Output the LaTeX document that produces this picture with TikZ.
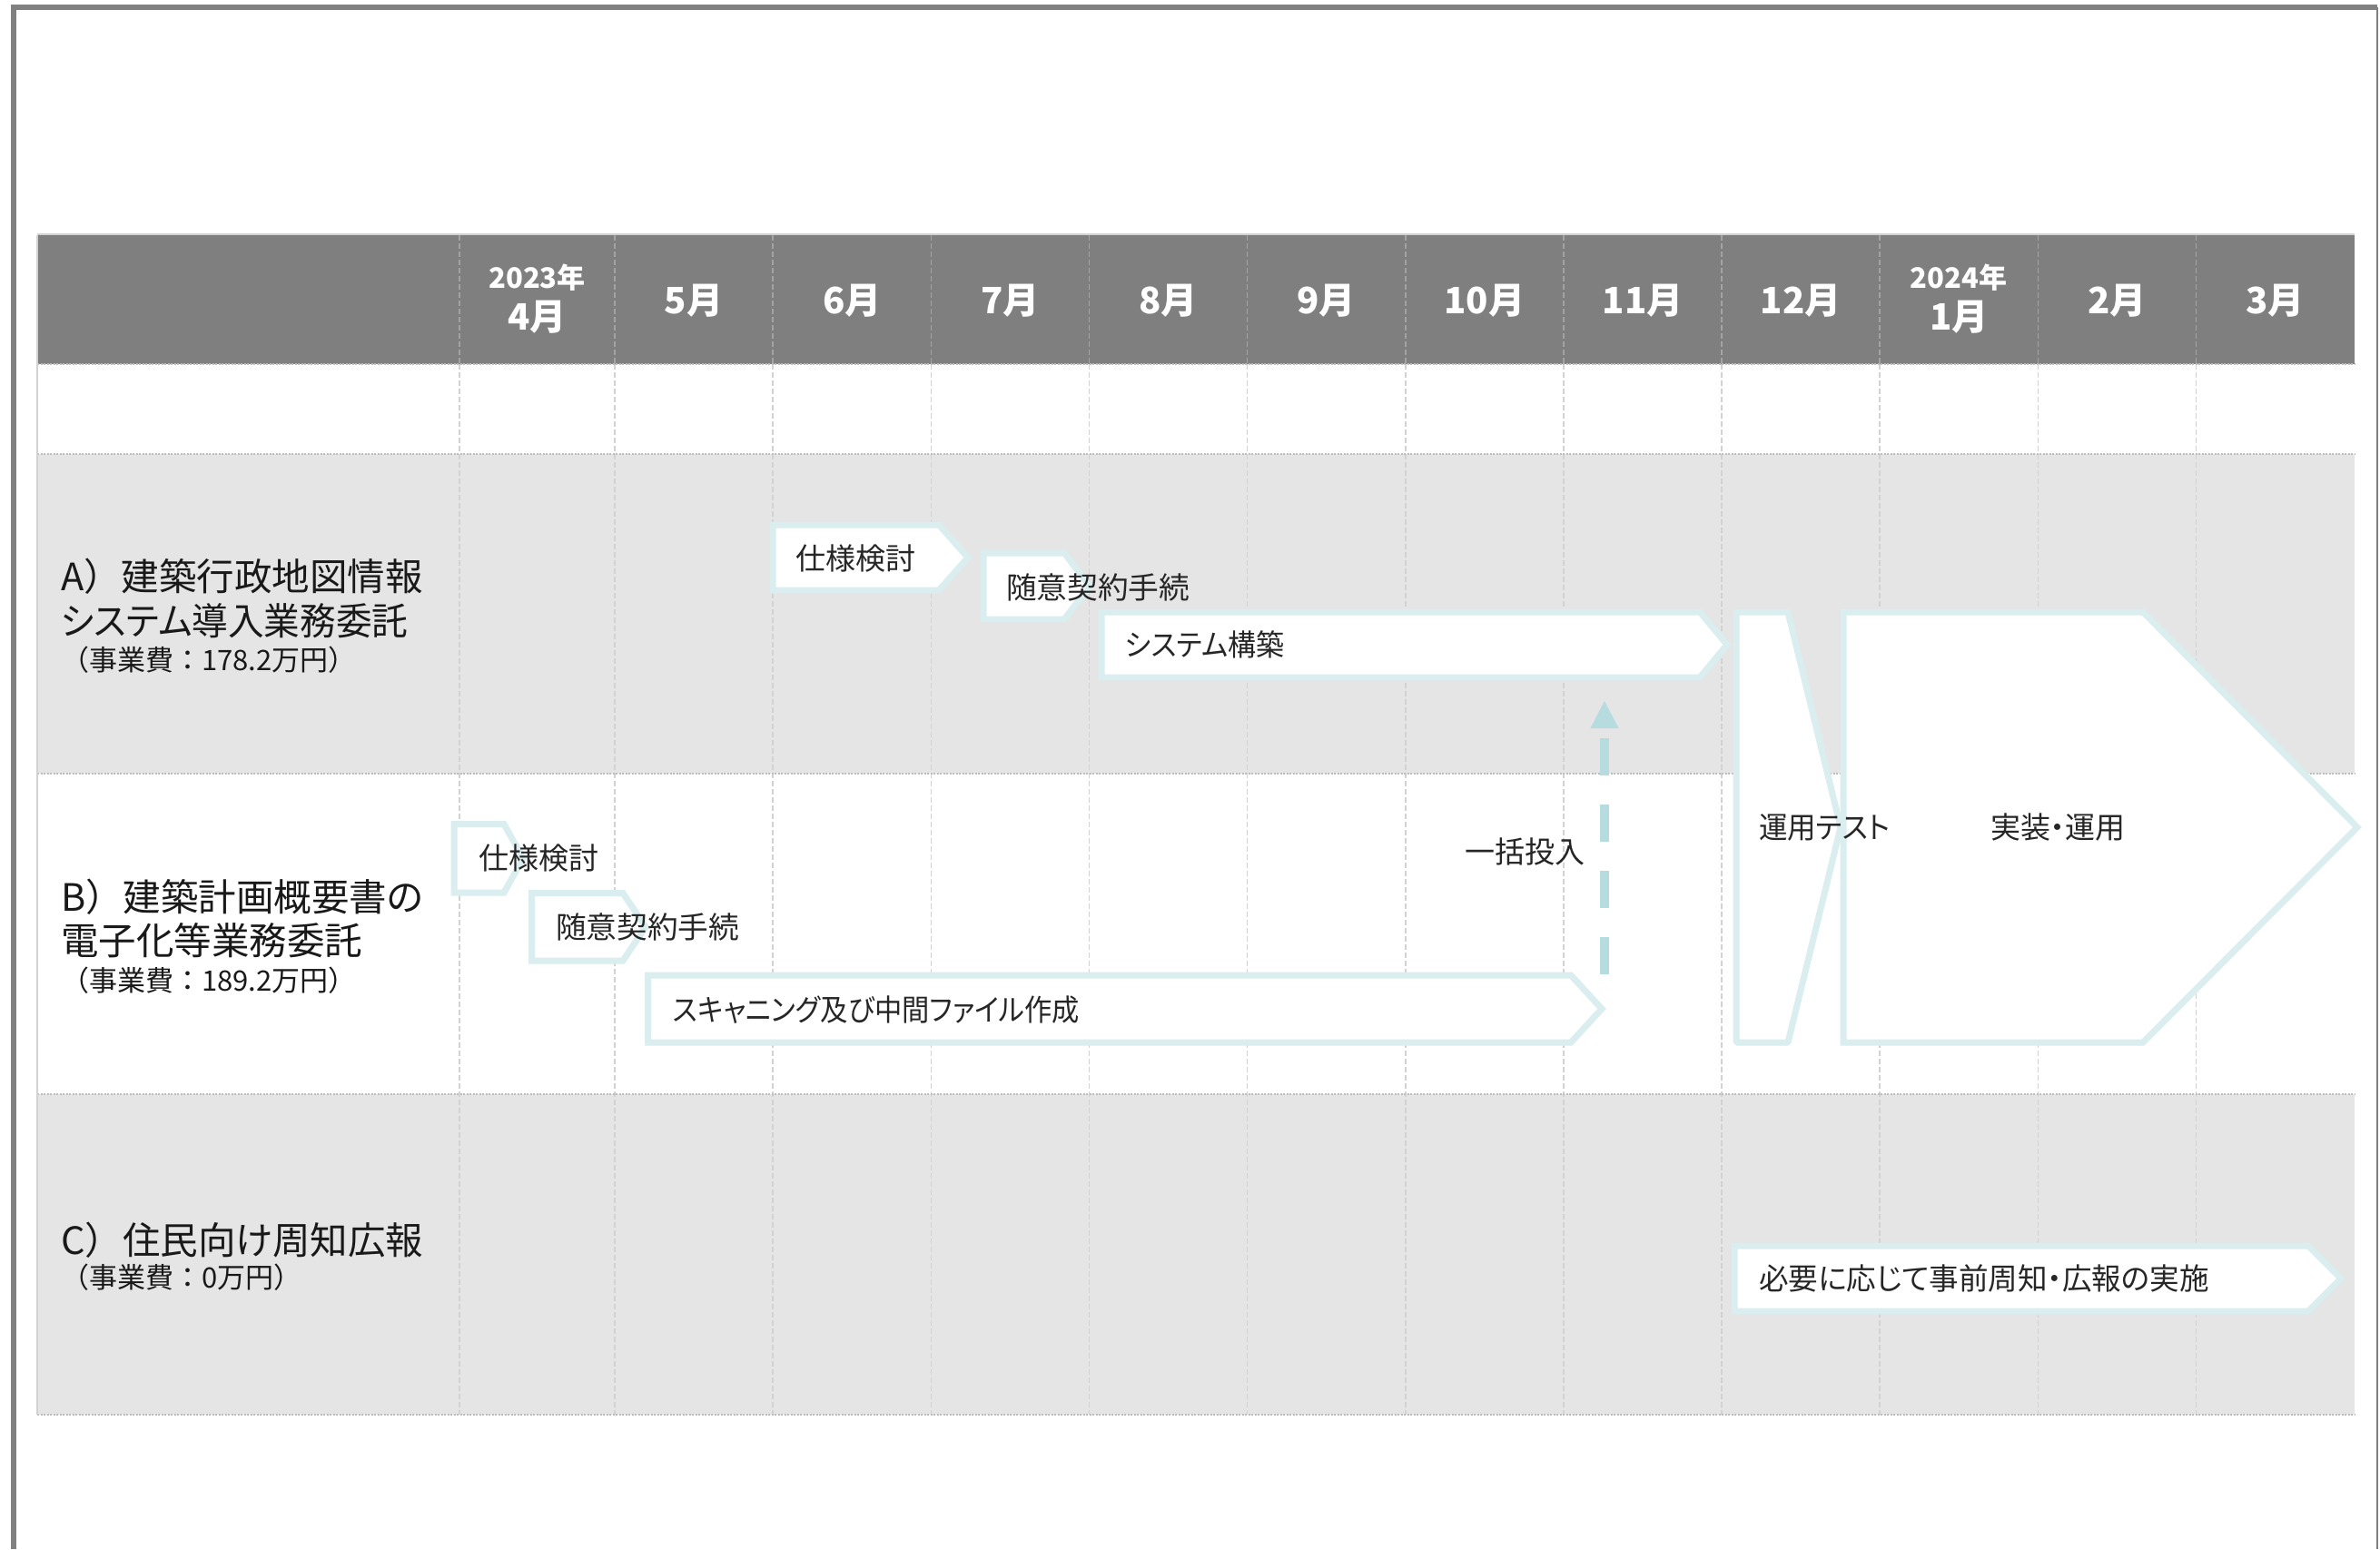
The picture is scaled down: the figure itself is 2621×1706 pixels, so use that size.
\documentclass[tikz,border=0pt]{standalone}
\usepackage{fontspec}
\setmainfont{Noto Sans CJK JP}
\newfontfamily\jpp[RawFeature=+palt]{Noto Sans CJK JP}
\definecolor{hdr}{HTML}{7F7F7F}
\definecolor{rowgray}{HTML}{E5E5E5}
\definecolor{chevline}{HTML}{DAEDEF}
\definecolor{arrowc}{HTML}{B7DCDF}
\definecolor{gridc}{HTML}{D2D2D2}
\definecolor{rowlinec}{HTML}{BDBDBD}
\definecolor{hgrid}{HTML}{A3A3A3}
\definecolor{framec}{HTML}{808080}
\definecolor{txt}{HTML}{262626}
\tikzset{
 chevbox/.style={draw=chevline, line width=7pt, fill=white, line join=miter},
 ctext/.style={anchor=west, inner sep=0pt, text=txt, font=\jpp\fontsize{33}{36}\selectfont},
 lbl/.style={anchor=west, inner sep=0pt, text=black!90, font=\jpp\fontsize{41.5}{46}\selectfont},
 sublbl/.style={anchor=west, inner sep=0pt, text=black!90, font=\fontsize{31}{34}\selectfont},
 mon/.style={inner sep=0pt, text=white, font=\bfseries\fontsize{40}{44}\selectfont},
 yr/.style={inner sep=0pt, text=white, font=\bfseries\fontsize{31}{34}\selectfont},
 vgrid/.style={draw=gridc, line width=1.5pt, dash pattern=on 6pt off 3pt},
 hgridl/.style={draw=hgrid, line width=1.5pt, dash pattern=on 6pt off 3pt},
 rowline/.style={draw=rowlinec, line width=1.5pt, dash pattern=on 2pt off 1.5pt},
}
% name, left, top, flat, tip, bottom
\newcommand{\chevshape}[7][]{%
 \draw[chevbox,#1] (#3,#4) coordinate (#2-nw) -- (#5,#4) -- (#6,{(#4+#7)/2}) coordinate (#2-tip) -- (#5,#7) -- (#3,#7) coordinate (#2-sw) -- cycle;}
\newcommand{\hsq}[2]{\scalebox{#1}[1]{#2}}
\begin{document}
\begin{tikzpicture}[x=1pt,y=-1pt]
\useasboundingbox (0,0) rectangle (2621,1706);
% outer frame
\draw[framec, line width=6pt] (14.5,1706) -- (14.5,7.5) -- (2618,7.5);
\draw[framec, line width=2.5pt] (2618,7.5) -- (2618,1706);
% table rows
\fill[hdr] (41,259) rectangle (2592.6,401);
\fill[white] (41,401) rectangle (2592.6,500);
\fill[rowgray] (41,500) rectangle (2592.6,852);
\fill[white] (41,852) rectangle (2592.6,1205);
\fill[rowgray] (41,1205) rectangle (2592.6,1558);
% grid
\foreach \x in {506,677,851.2,1025.3,1199.5,1373.6,1547.8,1721.9,1896,2070.1,2244.3,2418.4}{
  \draw[hgridl] (\x,259) -- (\x,401);
  \draw[vgrid] (\x,401) -- (\x,1558);
}
\foreach \y in {401,500,852,1205,1558}{
  \draw[rowline] (41,\y) -- (2592.6,\y);
}
\draw[gridc, line width=1.5pt] (41,259) -- (41,1558);
\draw[gridc, line width=2pt] (41,258) -- (2592.6,258);
% header texts
\node[yr] (y23) at (591.5,306) {2023年};
\node[mon] (m4) at (591.5,349) {4月};
\node[yr] (y24) at (2157.2,306) {2024年};
\node[mon] (m1) at (2157.2,349) {1月};
\foreach \c/\t/\n in {764/5月/m5, 938.2/6月/m6, 1112.4/7月/m7, 1286.5/8月/m8, 1460.7/9月/m9, 1634.8/10月/m10, 1809/11月/m11, 1983/12月/m12, 2331.3/2月/m2, 2505.5/3月/m3}{
  \node[mon] (\n) at (\c,331) {\t};
}
% row labels
\node[lbl] (la1) at (67,635) {A{\rmfamily ）}建築行政地図情報};
\node[lbl] (la2) at (67,684) {\hsq{0.955}{システム導入業務委託}};
\node[sublbl] (la3) at (67,727) {（事業費：178.2万円）};
\node[lbl] (lb1) at (67,988) {B{\rmfamily ）}建築計画概要書の};
\node[lbl] (lb2) at (67,1036) {電子化等業務委託};
\node[sublbl] (lb3) at (67,1080) {（事業費：189.2万円）};
\node[lbl] (lc1) at (67,1366) {C{\rmfamily ）}住民向け周知広報};
\node[sublbl] (lc2) at (67,1407) {（事業費：0万円）};
% chevrons
\chevshape{sA1}{851}{578}{1034}{1066}{650}
\chevshape{sA2}{1083}{609}{1172}{1200}{682}
\chevshape{sA3}{1213}{674}{1872}{1902}{746}
\chevshape{sImpl}{2030}{674}{2360}{2596}{1148}
\chevshape[line join=bevel]{sTest}{1912}{674}{1969}{2027}{1148}
\chevshape{sB1}{500}{907.5}{555}{576}{983}
\chevshape{sB2}{585.5}{983.5}{686}{711}{1058}
\chevshape{sB3}{713.5}{1074}{1730}{1764}{1148}
\chevshape{sC1}{1910}{1372}{2542}{2578}{1444}
% chevron texts
\node[ctext] (tA1) at (876,615) {仕様検討};
\node[ctext] (tA2) at (1108,647) {\hsq{1.02}{随意契約手続}};
\node[ctext] (tA3) at (1239,710) {\hsq{0.94}{システム構築}};
\node[ctext] (tTest) at (1937,911) {\hsq{0.955}{運用テスト}};
\node[ctext] (tImpl) at (2192,911) {実装・運用};
\node[ctext] (tB1) at (527,945) {仕様検討};
\node[ctext] (tB2) at (612,1021) {\hsq{1.02}{随意契約手続}};
\node[ctext] (tB3) at (741,1112) {\hsq{0.917}{スキャニング及び中間ファイル作成}};
\node[ctext] (tC1) at (1937,1408) {\hsq{0.987}{必要に応じて事前周知・広報の実施}};
\node[ctext] (tBulk) at (1613,938) {一括投入};
% dashed arrow
\coordinate (arrS) at (1767,1073);
\coordinate (arrE) at (1767,802);
\coordinate (arrT) at (1767,772);
\draw[arrowc, line width=10.5pt, dash pattern=on 41pt off 32pt] (arrS) -- (arrE);
\fill[arrowc] ([xshift=-15.5pt]arrE) -- (arrT) -- ([xshift=15.5pt]arrE) -- cycle;
\end{tikzpicture}
\end{document}
